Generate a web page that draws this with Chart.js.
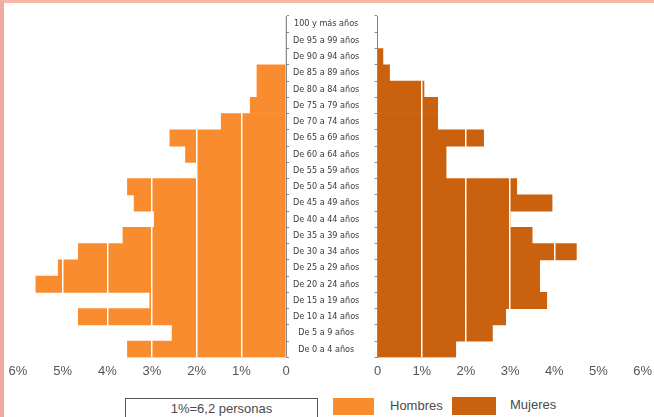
<!DOCTYPE html>
<html>
<head>
<meta charset="utf-8">
<script src="https://cdn.jsdelivr.net/npm/chart.js@4/dist/chart.umd.min.js"></script>
<style>
  body { margin: 0; background: #fff; }
  #wrap { position: relative; width: 654px; height: 417px; overflow: hidden; background: #fff;
          border-top: 3px solid #f3b9a6; border-left: 4px solid #f1aaa2; box-sizing: border-box; }
  #leftBox { position: absolute; left: -4px; top: -3px; width: 374px; height: 385px; }
  #rightBox { position: absolute; left: 364px; top: -3px; width: 290px; height: 385px; }
  .lbl { position: absolute; font-family: "Liberation Sans Narrow", "Liberation Sans", Arial, sans-serif; font-size: 13px; color: #4a4a4a; }
  #note { position: absolute; left: 121px; top: 395px; width: 193px; height: 24px; border: 1px solid #555;
          box-sizing: border-box; text-align: center; line-height: 20px; }
  .patch { position: absolute; }
</style>
</head>
<body>
<div id="wrap">
  <div id="leftBox"><canvas id="menCanvas"></canvas></div>
  <div id="rightBox"><canvas id="womenCanvas"></canvas></div>
  <div id="note" class="lbl">1%=6,2 personas</div>
  <div class="patch" style="left:329px;top:395px;width:41px;height:17px;background:#f98c2e;"></div>
  <div class="lbl" style="left:386px;top:395px;">Hombres</div>
  <div class="patch" style="left:448px;top:394px;width:44px;height:18px;background:#c9610e;"></div>
  <div class="lbl" style="left:506px;top:394px;">Mujeres</div>
</div>
<script>
const ageGroups = ["100 y más años", "De 95 a 99 años", "De 90 a 94 años", "De 85 a 89 años", "De 80 a 84 años",
    "De 75 a 79 años", "De 70 a 74 años", "De 65 a 69 años", "De 60 a 64 años", "De 55 a 59 años",
    "De 50 a 54 años", "De 45 a 49 años", "De 40 a 44 años", "De 35 a 39 años", "De 30 a 34 años",
    "De 25 a 29 años", "De 20 a 24 años", "De 15 a 19 años", "De 10 a 14 años", "De 5 a 9 años", "De 0 a 4 años"];
const hombres = [0, 0, 0, 0.65, 0.65, 0.8, 1.45, 2.6, 2.25, 2.0, 3.55, 3.4, 2.95, 3.65, 4.65, 5.1, 5.6, 3.05, 4.65, 2.55, 3.55];
const mujeres = [0, 0, 0.12, 0.27, 1.05, 1.36, 1.36, 2.4, 1.55, 1.55, 3.15, 3.95, 3.0, 3.5, 4.5, 3.67, 3.67, 3.83, 2.9, 2.6, 1.77];
const pctTicks = [0, 1, 2, 3, 4, 5, 6];

const colorHombres = "#f98c2e";
const colorMujeres = "#c9610e";
const tickFont = { family: "'Liberation Sans Narrow', 'Liberation Sans', Arial, sans-serif", size: 13 };
const ageFont = { family: "'Liberation Sans Narrow', 'DejaVu Sans Condensed', Arial, sans-serif", size: 9 };

function pctLabel(v) {
    return v === 0 ? "0" : v + "%";
}

function xScale(reverse) {
    return {
        type: "linear",
        min: 0,
        max: 6,
        reverse: reverse,
        afterBuildTicks: (axis) => { axis.ticks = pctTicks.map(v => ({ value: v })); },
        ticks: { callback: pctLabel, color: "#555", font: tickFont, padding: 6, maxRotation: 0 },
        grid: {
            z: 1,
            drawTicks: false,
            lineWidth: 1.5,
            color: (ctx) => ctx.tick && ctx.tick.value === 0 ? "rgba(0,0,0,0)" : "#ffffff"
        },
        border: { display: true, color: "#9a9a9a", width: 1 }
    };
}

const menChart = new Chart(document.getElementById("menCanvas"), {
    type: "bar",
    data: {
        labels: ageGroups,
        datasets: [{
            label: "Hombres",
            data: hombres,
            backgroundColor: colorHombres,
            barPercentage: 1,
            categoryPercentage: 1
        }]
    },
    options: {
        indexAxis: "y",
        responsive: true,
        maintainAspectRatio: false,
        animation: false,
        layout: { padding: { top: 16, left: 18, right: 0, bottom: 0 } },
        plugins: { legend: { display: false }, tooltip: { enabled: false } },
        scales: {
            x: xScale(true),
            y: {
                position: "right",
                afterFit: (axis) => { axis.width = 88; },
                ticks: { crossAlign: "center", color: "#3a3a3a", font: ageFont, padding: 4 },
                grid: { drawOnChartArea: false, tickLength: 3, color: "#888", offset: true },
                border: { display: true, color: "#888" }
            }
        }
    }
});

const womenChart = new Chart(document.getElementById("womenCanvas"), {
    type: "bar",
    data: {
        labels: ageGroups,
        datasets: [{
            label: "Mujeres",
            data: mujeres,
            backgroundColor: colorMujeres,
            barPercentage: 1,
            categoryPercentage: 1
        }]
    },
    options: {
        indexAxis: "y",
        responsive: true,
        maintainAspectRatio: false,
        animation: false,
        layout: { padding: { top: 16, left: 0, right: 4, bottom: 0 } },
        plugins: { legend: { display: false }, tooltip: { enabled: false } },
        scales: {
            x: xScale(false),
            y: {
                position: "left",
                afterFit: (axis) => { axis.width = 6; },
                ticks: { display: false },
                grid: { drawOnChartArea: false, tickLength: 3, color: "#888", offset: true },
                border: { display: true, color: "#888" }
            }
        }
    }
});
</script>
</body>
</html>
